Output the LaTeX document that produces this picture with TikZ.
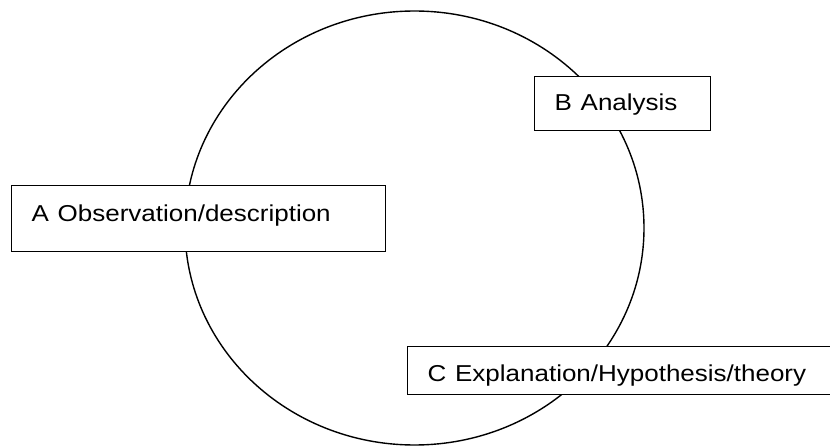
\documentclass[tikz,border=0pt]{standalone}
\usepackage{fontspec}
\setmainfont{Liberation Sans}
\usetikzlibrary{positioning}
\newcommand{\widetext}[1]{\scalebox{1.13}[1]{#1}}
\tikzset{stagebox/.style={draw, fill=white, line width=1.4pt, inner xsep=20pt, inner ysep=0pt,
  align=left, anchor=north west, font=\fontsize{23}{27}\selectfont}}

\begin{document}
\begin{tikzpicture}[x=1pt,y=-1pt]
\useasboundingbox (0,0) rectangle (830,446);
% cycle
\draw[line width=1.4pt] (414.5,228) ellipse [x radius=229.5, y radius=217];
% stages
\node[stagebox, text width=334pt, text height=36pt, text depth=30pt] (obs) at (11,185) {\widetext{A Observation/description}};
\node[stagebox, text width=136pt, text height=34pt, text depth=20pt] (ana) at (534,76) {\widetext{B Analysis}};
\node[stagebox, text width=420pt, text height=35pt, text depth=13pt] (expl) at (407,346) {\widetext{C Explanation/Hypothesis/theory}};
\end{tikzpicture}
\end{document}
